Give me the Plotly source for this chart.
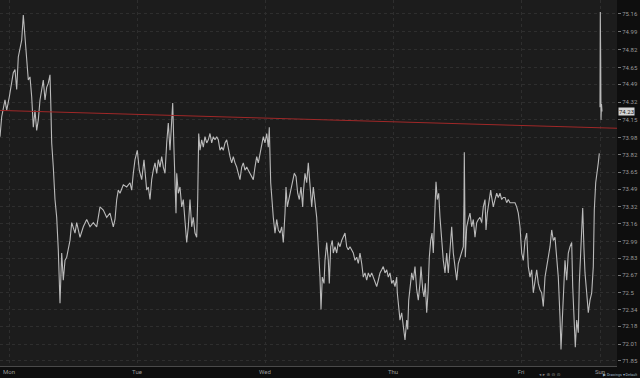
import plotly.graph_objects as go

# time axis: session bar number (11.25-minute bars, weekend removed)
week_t = [0, 1.7, 5, 6.7, 9.3, 11.7, 13.3, 15, 16.7, 18.3, 20, 21.7, 23.3, 25, 26.7, 28.3, 30, 31.7, 33.3, 35,
          36.7, 38.3, 40, 41.7, 43.3, 45, 46.7, 48.3, 50, 50.7, 51.7, 53.3, 55, 56.7, 58.3, 60, 61.7, 63.3, 65, 66.7,
          68.3, 70, 71.7, 73.3, 75, 76.7, 80, 83.3, 86.7, 90, 93.3, 96.7, 100, 103.3, 106.7, 110, 113.3, 115, 116.7, 118.3,
          120, 123.3, 126.7, 130, 131.7, 133.3, 135, 137.3, 139.3, 141.7, 144, 146.7, 148.3, 150, 151.7, 153.3, 155, 156.7, 158.3, 160,
          161.7, 163.3, 165, 166.7, 168.3, 170, 171.7, 172.7, 174, 175, 176, 176.7, 178.3, 180, 181.7, 183.3, 185, 186.7, 188.3, 190,
          191.7, 193.3, 195, 196.7, 197.7, 198.7, 200, 201.7, 203.3, 205, 206.7, 208.3, 210, 211.7, 213.3, 215, 216.7, 218.3, 220, 221.7,
          223.3, 225, 226.7, 228.3, 230, 231.7, 233.3, 235, 236.7, 238.3, 240, 241.7, 243.3, 245, 246.7, 248.3, 250, 251.7, 253.3, 255,
          256.7, 258.3, 260, 261.7, 263.3, 265, 266.7, 268.3, 269.3, 270.7, 271.7, 273.3, 275, 276.7, 278.3, 280, 281.7, 283.3, 285, 286,
          287.3, 289.3, 291, 292.7, 294.3, 296, 297.7, 299.3, 301, 302.7, 303.3, 305, 306.7, 308.3, 310, 311.7, 313.3, 315, 316.7, 318.3,
          320, 321, 322.3, 324, 325, 326.7, 328.3, 329.3, 330.7, 332.3, 333.3, 335, 336.7, 338.3, 340, 341.7, 343.3, 345, 346.7, 348.3,
          350, 351.7, 353.3, 355, 356.7, 358.3, 360, 361.7, 363.3, 365, 366.7, 368.3, 370, 371.7, 373.3, 375, 376.7, 378.3, 380, 381.7,
          383.3, 385, 386.7, 388.3, 390, 391.7, 393.3, 395, 396.7, 397.3, 398.7, 400, 401.7, 403.3, 405, 406.7, 407.7, 408.7, 410, 411.7,
          413.3, 415, 416.7, 418.3, 420, 421, 422.7, 424, 425.3, 426.7, 428, 429.3, 430.7, 432, 433.3, 434.3, 435.3, 436, 437.3, 438.7,
          440, 441.7, 443.3, 445, 446.7, 448.3, 450, 451.7, 453.3, 455, 456.7, 458.3, 460, 461.7, 463.3, 464, 464.3, 465.3, 466.7, 468.3,
          470, 471.7, 473.3, 475, 476.7, 478.3, 480, 481.7, 483.3, 485, 486, 487.3, 489.3, 490.7, 491.7, 493.3, 495, 496.7, 498.3, 500,
          501.7, 503.3, 505, 506.7, 508.3, 510, 511.7, 513.3, 515, 516.7, 518.3, 520, 521.7, 523.3, 525, 526.7, 528.3, 530, 531.7, 533.3,
          535, 536.7, 538.3, 540, 541.7, 543.3, 545, 546.7, 548.3, 550, 551.7, 553.3, 555, 556.7, 558.3, 560, 561, 562.3, 563.3, 565,
          566.7, 568.3, 570, 571.7, 572.7, 574, 575.3, 576.7, 578.3, 579.3, 580.7, 581.7, 582.7, 584, 585, 586.7, 588.3, 590, 591.7, 593.3,
          594.3, 595.7, 596.7, 598.3, 599.3]

week_price = [73.99, 74.18, 74.34, 74.24, 74.37, 74.50, 74.60, 74.63, 74.44, 74.75, 74.82, 74.91, 75.15, 74.94, 74.72, 74.53, 74.56, 74.37, 74.08, 74.24,
              74.05, 74.15, 74.34, 74.46, 74.53, 74.34, 74.46, 74.50, 74.58, 74.34, 73.93, 73.70, 73.39, 73.22, 72.91, 72.40, 72.88, 72.62, 72.81, 72.84,
              72.94, 73.00, 73.17, 73.13, 73.07, 73.17, 73.03, 73.13, 73.20, 73.13, 73.17, 73.13, 73.32, 73.29, 73.22, 73.26, 73.13, 73.20, 73.39, 73.48,
              73.45, 73.53, 73.51, 73.55, 73.48, 73.64, 73.77, 73.86, 73.67, 73.58, 73.77, 73.48, 73.51, 73.39, 73.58, 73.67, 73.74, 73.64, 73.77, 73.70,
              73.80, 73.70, 73.64, 73.93, 74.12, 73.86, 74.24, 74.31, 73.86, 73.51, 73.26, 73.64, 73.45, 73.51, 73.32, 73.39, 73.22, 72.98, 73.13, 73.39,
              73.13, 73.22, 73.07, 73.03, 73.39, 74.02, 73.86, 73.96, 73.89, 73.99, 73.93, 73.96, 74.02, 73.93, 73.99, 73.96, 73.99, 73.96, 73.86, 73.89,
              73.86, 73.93, 73.96, 73.86, 73.80, 73.74, 73.80, 73.74, 73.70, 73.64, 73.58, 73.70, 73.74, 73.67, 73.70, 73.67, 73.64, 73.61, 73.58, 73.70,
              73.80, 73.74, 73.83, 73.89, 73.99, 73.93, 74.02, 73.89, 74.08, 73.55, 73.39, 73.22, 73.07, 73.20, 73.10, 73.07, 73.13, 72.98, 73.26, 73.51,
              73.32, 73.41, 73.51, 73.58, 73.64, 73.61, 73.45, 73.39, 73.51, 73.32, 73.45, 73.64, 73.55, 73.74, 73.51, 73.32, 73.51, 73.39, 73.22, 72.94,
              72.65, 72.34, 72.65, 72.59, 72.81, 72.98, 72.81, 72.59, 72.94, 73.00, 72.88, 72.94, 72.88, 72.98, 72.94, 73.00, 73.03, 73.07, 72.94, 72.91,
              72.94, 72.91, 72.88, 72.81, 72.84, 72.78, 72.88, 72.78, 72.65, 72.69, 72.62, 72.69, 72.65, 72.69, 72.65, 72.59, 72.56, 72.62, 72.69, 72.72,
              72.75, 72.69, 72.72, 72.65, 72.69, 72.59, 72.62, 72.56, 72.65, 72.50, 72.37, 72.24, 72.31, 72.15, 72.05, 72.24, 72.15, 72.43, 72.53, 72.69,
              72.62, 72.75, 72.53, 72.43, 72.59, 72.75, 72.53, 72.46, 72.59, 72.31, 72.50, 72.84, 73.00, 73.07, 72.88, 73.20, 73.39, 73.56, 73.39, 73.45,
              73.22, 73.00, 72.81, 72.69, 72.88, 72.69, 72.94, 73.13, 72.88, 72.72, 72.62, 72.78, 72.84, 72.88, 72.94, 73.39, 73.84, 72.84, 73.13, 73.20,
              73.26, 73.13, 73.20, 73.03, 73.17, 73.20, 73.22, 73.17, 73.32, 73.39, 73.10, 73.26, 73.39, 73.48, 73.41, 73.32, 73.39, 73.45, 73.41, 73.45,
              73.39, 73.41, 73.41, 73.36, 73.39, 73.36, 73.36, 73.36, 73.36, 73.32, 73.26, 73.13, 72.88, 72.81, 73.00, 73.07, 72.75, 72.65, 72.72, 72.50,
              72.59, 72.72, 72.59, 72.53, 72.50, 72.37, 72.65, 72.75, 72.84, 72.94, 73.10, 73.00, 73.03, 72.84, 72.65, 72.27, 71.96, 72.24, 72.53, 72.81,
              72.62, 72.88, 72.94, 72.98, 72.56, 72.24, 71.98, 72.24, 72.12, 72.59, 72.84, 73.07, 73.31, 72.91, 72.69, 72.50, 72.31, 72.43, 72.50, 72.75,
              73.29, 73.55, 73.61, 73.74, 73.83]

sunday_t = [600, 600.3, 600.7, 601, 601.5, 602]
sunday_price = [74.27, 75.18, 74.72, 74.15, 74.30, 74.23]

trend_t = [0, 617]
trend_price = [74.24, 74.07]

last_price = 74.23

day_labels = ["Mon", "Tue", "Wed", "Thu", "Fri", "Sun"]
day_start_bar = [9, 137, 265, 393, 521, 600]

price_ticks = [75.16, 74.99, 74.82, 74.65, 74.49, 74.32, 74.15, 73.98, 73.82, 73.65, 73.49,
               73.32, 73.16, 72.99, 72.83, 72.67, 72.5, 72.34, 72.18, 72.01, 71.85]

fig = go.Figure()
line_style = dict(color="#bababa", width=1.1)
fig.add_trace(go.Scatter(x=week_t, y=week_price, mode="lines", line=line_style,
                         hoverinfo="skip", showlegend=False))
fig.add_trace(go.Scatter(x=sunday_t, y=sunday_price, mode="lines", line=line_style,
                         hoverinfo="skip", showlegend=False))
fig.add_trace(go.Scatter(x=trend_t, y=trend_price, mode="lines",
                         line=dict(color="#a02828", width=1),
                         hoverinfo="skip", showlegend=False))

fig.add_annotation(xref="paper", x=1, xanchor="left", xshift=1, yref="y", y=last_price,
                   text=f"{last_price:.2f}", showarrow=False, bgcolor="#d6d6d6",
                   font=dict(family="Roboto", size=6, color="#222"), borderpad=0)
fig.add_annotation(xref="paper", x=1, xanchor="right", xshift=22, yref="paper", y=0,
                   yanchor="bottom", yshift=-11.5, text="▶ Drawings ▾ Default",
                   showarrow=False, borderpad=0,
                   font=dict(family="Roboto", size=3.6, color="#9fb3c8"))
fig.add_annotation(xref="paper", x=0.872, xanchor="left", yref="paper", y=0, yanchor="bottom",
                   yshift=-11.5, text="◂ ▸ ⊕ ⊖ ⊙", showarrow=False, borderpad=0,
                   font=dict(family="DejaVu Sans", size=4.5, color="#8a8a8a"))

fig.update_layout(
    width=640, height=378,
    margin=dict(l=0, r=23, t=0, b=12, pad=0),
    paper_bgcolor="#0e0e0e", plot_bgcolor="#1c1c1c",
    font=dict(family="Roboto", size=6, color="#9a9a9a"),
    xaxis=dict(range=[0, 617], tickvals=day_start_bar, ticktext=day_labels,
               showgrid=True, gridcolor="#2e2e2e", griddash="dot", gridwidth=1,
               zeroline=False, showline=True, linecolor="#4a4a4a", linewidth=1,
               ticks="", tickfont=dict(size=6, color="#9a9a9a")),
    yaxis=dict(range=[71.802, 75.2935], side="right", tickvals=price_ticks,
               ticktext=[str(v) for v in price_ticks],
               showgrid=True, gridcolor="#2e2e2e", griddash="dot", gridwidth=1,
               zeroline=False, showline=False, ticks="outside", ticklen=3,
               tickcolor="#777777", tickfont=dict(size=6, color="#9a9a9a")),
)

fig.write_html("out.html")
